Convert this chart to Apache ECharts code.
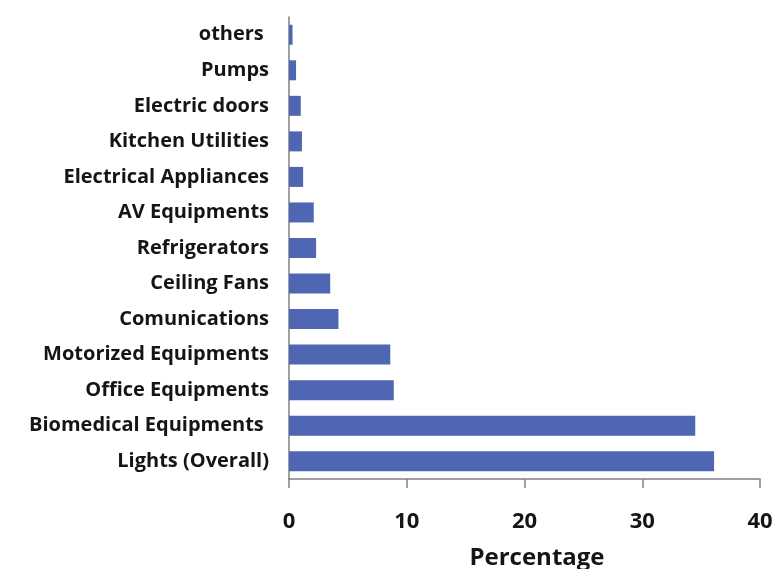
<!DOCTYPE html>
<html>
<head>
<meta charset="utf-8">
<script src="https://cdn.jsdelivr.net/npm/echarts@6/dist/echarts.min.js"></script>
<style>
  html, body { margin: 0; padding: 0; background: #fff; }
  #mycharts { width: 777px; height: 569px; }
</style>
</head>
<body>
<div id="mycharts"></div>
<script>
// categories from bottom to top
var categories = [
  "Lights (Overall)",
  "Biomedical Equipments ",
  "Office Equipments",
  "Motorized Equipments",
  "Comunications",
  "Ceiling Fans",
  "Refrigerators",
  "AV Equipments",
  "Electrical Appliances",
  "Kitchen Utilities",
  "Electric doors",
  "Pumps",
  "others "
];
var percentage = [36.1, 34.5, 8.9, 8.6, 4.2, 3.5, 2.3, 2.1, 1.2, 1.1, 1.0, 0.6, 0.3];
var xTicks = [0, 10, 20, 30, 40];

var myCharts = echarts.init(document.getElementById("mycharts"));
var option = {
  animation: false,
  grid: {
    left: 289,
    right: 17,
    top: 17,
    bottom: 90,
    outerBoundsMode: "none"
  },
  xAxis: {
    type: "value",
    min: xTicks[0],
    max: xTicks[xTicks.length - 1],
    interval: 10,
    name: "Percentage",
    nameLocation: "middle",
    nameGap: 67,
    nameTextStyle: {
      fontFamily: "Open Sans",
      fontWeight: "bold",
      fontSize: 24,
      color: "#151515",
      padding: [0, 0, 0, 25]
    },
    axisLine: { show: true, lineStyle: { color: "#808080", width: 1.5 } },
    axisTick: { show: true, length: 9, inside: false, lineStyle: { color: "#808080", width: 1.5 } },
    axisLabel: {
      margin: 32,
      fontFamily: "Open Sans",
      fontWeight: "bold",
      fontSize: 22,
      color: "#151515"
    },
    splitLine: { show: false }
  },
  yAxis: {
    type: "category",
    data: categories,
    axisLine: { show: true, lineStyle: { color: "#808080", width: 1.5 } },
    axisTick: { show: false },
    axisLabel: {
      margin: 20,
      fontFamily: "Open Sans",
      fontWeight: "bold",
      fontSize: 20,
      color: "#151515"
    }
  },
  series: [
    {
      name: "Percentage",
      type: "bar",
      data: percentage,
      barWidth: 20,
      itemStyle: { color: "#4f66b2" }
    }
  ]
};
myCharts.setOption(option);
</script>
</body>
</html>
